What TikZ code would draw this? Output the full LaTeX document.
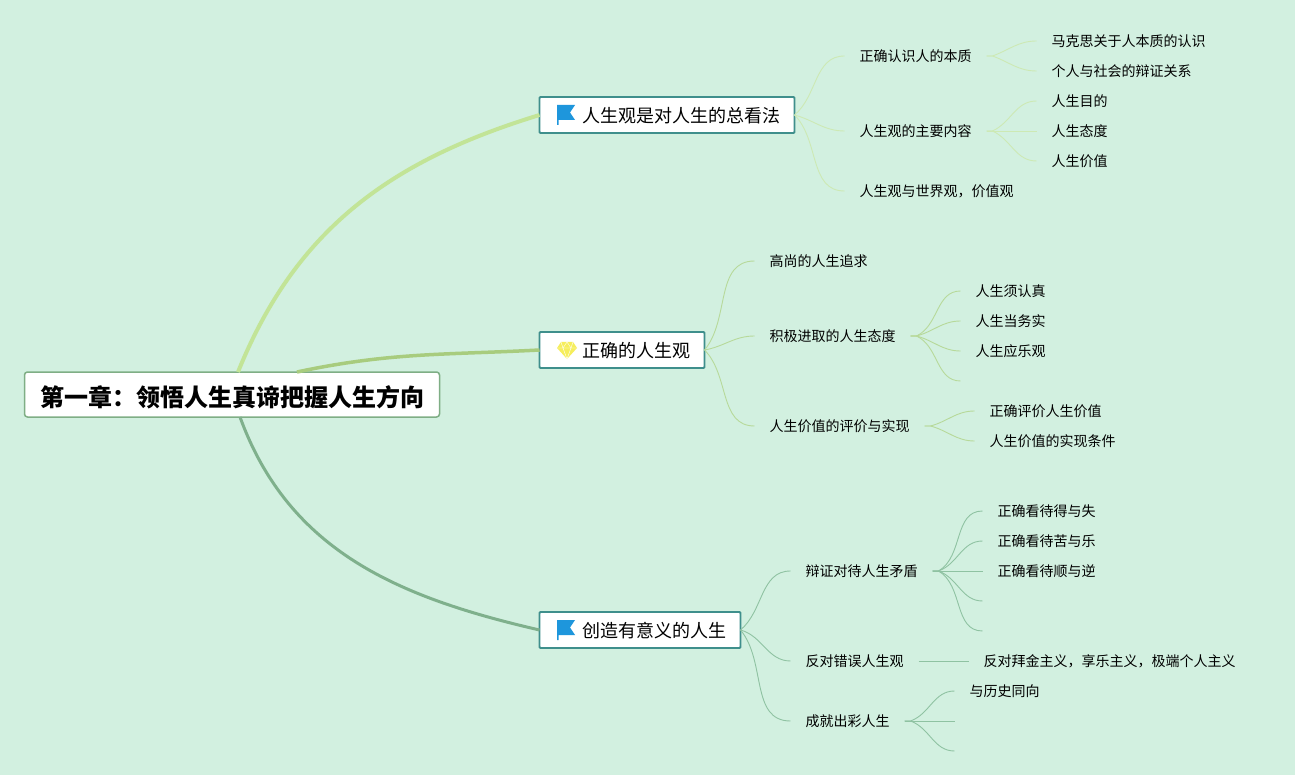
\documentclass[tikz,border=0pt]{standalone}
\usepackage{fontspec}
\setmainfont{Noto Sans CJK SC}
\usepackage{xcolor}
\usetikzlibrary{positioning}
\definecolor{paper}{HTML}{D2F0E0}
\definecolor{teal}{HTML}{3F8F8C}
\definecolor{rootline}{HTML}{7FAE85}
\definecolor{lime}{HTML}{C2E497}
\definecolor{olive}{HTML}{A8CC7E}
\definecolor{sage}{HTML}{7FB08C}
\definecolor{limetwig}{HTML}{CDE9B4}
\definecolor{olivetwig}{HTML}{B7D99A}
\definecolor{sagetwig}{HTML}{8FC2A2}
\definecolor{flagblue}{HTML}{1E96DC}
\definecolor{gemyellow}{HTML}{F6EE5C}

\begin{document}
\begin{tikzpicture}[
  x=1pt, y=1pt, node distance=50pt, outer sep=0pt,
  rootbox/.style={rectangle, rounded corners=3pt, draw=rootline, line width=1.5pt, fill=white, minimum height=45pt, inner xsep=15.5pt, inner ysep=0pt, text height=24pt, text depth=0.8pt, font=\fontsize{24}{28}\selectfont\bfseries},
  topic/.style={rectangle, rounded corners=1pt, draw=teal, line width=1.8pt, fill=white, minimum height=36pt, inner xsep=14pt, inner ysep=0pt, text height=17pt, text depth=1.3pt, font=\fontsize{18}{22}\selectfont},
  item/.style={rectangle, inner xsep=15pt, inner ysep=0pt, text height=12.6pt, text depth=1pt, font=\fontsize{14}{18}\selectfont},
  twig/.style={line width=0.9pt},
  flag/.pic={
    \fill[flagblue] (0,10) -- (18,10) -- (13,2.5) -- (18,-5) -- (1.5,-5) -- (1.5,-10) -- (0,-10) -- cycle;
  },
  gem/.pic={
    \fill[gemyellow] (4,8) -- (16,8) -- (20,2) -- (10,-9) -- (0,2) -- cycle;
    \draw[white, line width=0.4pt] (0,2) -- (20,2) (6,2) -- (10,-9) -- (14,2) (4,8) -- (6,2) -- (10,8) -- (14,2) -- (16,8);
  }
]
  \fill[paper] (0,0) rectangle (1295,-775);
  \useasboundingbox (0,0) rectangle (1295,-775);

  % centre and the three main topics
  \node[rootbox] (root) at (232,-394.5) {第一章：领悟人生真谛把握人生方向};
  \node[topic, right=100pt of root, yshift=279.5pt] (view) {\hspace*{29pt}人生观是对人生的总看法};
  \node[topic, right=100pt of root, yshift=44.5pt] (right) {\hspace*{29pt}正确的人生观};
  \node[topic, right=100pt of root, yshift=-235.5pt] (create) {\hspace*{29pt}创造有意义的人生};
  \pic at ([xshift=17.5pt]view.west) {flag};
  \pic at ([xshift=17.5pt]right.west) {gem};
  \pic at ([xshift=17.5pt]create.west) {flag};

  % first topic
  \node[item, right=of view, yshift=59pt] (nature) {正确认识人的本质};
  \node[item, right=of view, yshift=-16pt] (content) {人生观的主要内容};
  \node[item, right=of view, yshift=-76pt] (world) {人生观与世界观，价值观};
  \node[item, right=of nature, yshift=15pt] (marx) {马克思关于人本质的认识};
  \node[item, right=of nature, yshift=-15pt] (society) {个人与社会的辩证关系};
  \node[item, right=of content, yshift=30pt] (aim) {人生目的};
  \node[item, right=of content] (manner) {人生态度};
  \node[item, right=of content, yshift=-30pt] (worth) {人生价值};

  % second topic
  \node[item, right=of right, yshift=89pt] (noble) {高尚的人生追求};
  \node[item, right=of right, yshift=14pt] (active) {积极进取的人生态度};
  \node[item, right=of right, yshift=-76pt] (judge) {人生价值的评价与实现};
  \node[item, right=of active, yshift=45pt] (serious) {人生须认真};
  \node[item, right=of active, yshift=15pt] (real) {人生当务实};
  \node[item, right=of active, yshift=-15pt] (glad) {人生应乐观};
  \coordinate[right=of active, yshift=-45pt] (activeend);
  \node[item, right=of judge, yshift=15pt] (rate) {正确评价人生价值};
  \node[item, right=of judge, yshift=-15pt] (terms) {人生价值的实现条件};

  % third topic
  \node[item, right=of create, yshift=59pt] (conflict) {辩证对待人生矛盾};
  \node[item, right=of create, yshift=-31pt] (oppose) {反对错误人生观};
  \node[item, right=of create, yshift=-91pt] (achieve) {成就出彩人生};
  \node[item, right=of conflict, yshift=60pt] (gain) {正确看待得与失};
  \node[item, right=of conflict, yshift=30pt] (bitter) {正确看待苦与乐};
  \node[item, right=of conflict] (smooth) {正确看待顺与逆};
  \coordinate[right=of conflict, yshift=-30pt] (conflictfour);
  \coordinate[right=of conflict, yshift=-60pt] (conflictfive);
  \node[item, right=of oppose] (money) {反对拜金主义，享乐主义，极端个人主义};
  \node[item, right=of achieve, yshift=30pt] (history) {与历史同向};
  \coordinate[right=of achieve] (achievetwo);
  \coordinate[right=of achieve, yshift=-30pt] (achievethree);

  % main branches
  \draw[lime, line width=4pt] ([xshift=6pt]root.north) to[out=68, in=197] (view.west);
  \draw[olive, line width=3.5pt] ([xshift=65pt]root.north) to[out=12, in=183] (right.west);
  \draw[sage, line width=3pt] ([xshift=8pt]root.south) to[out=-70, in=167] (create.west);

  % twigs
  \draw[twig, limetwig] (view.east) to[out=40, in=180] (nature.west);
  \draw[twig, limetwig] (view.east) to[out=-15, in=180] (content.west);
  \draw[twig, limetwig] (view.east) to[out=-45, in=180] (world.west);
  \draw[twig, limetwig] (nature.east) -- ++(6,0) to[out=20, in=180] (marx.west);
  \draw[twig, limetwig] (nature.east) -- ++(6,0) to[out=-20, in=180] (society.west);
  \draw[twig, limetwig] (content.east) -- ++(6,0) to[out=25, in=180] (aim.west);
  \draw[twig, limetwig] (content.east) -- (manner.west);
  \draw[twig, limetwig] (content.east) -- ++(6,0) to[out=-25, in=180] (worth.west);

  \draw[twig, olivetwig] (right.east) to[out=50, in=180] (noble.west);
  \draw[twig, olivetwig] (right.east) to[out=10, in=180] (active.west);
  \draw[twig, olivetwig] (right.east) to[out=-45, in=180] (judge.west);
  \draw[twig, olivetwig] (active.east) -- ++(6,0) to[out=25, in=180] (serious.west);
  \draw[twig, olivetwig] (active.east) -- ++(6,0) to[out=15, in=180] (real.west);
  \draw[twig, olivetwig] (active.east) -- ++(6,0) to[out=-15, in=180] (glad.west);
  \draw[twig, olivetwig] (active.east) -- ++(6,0) to[out=-25, in=180] (activeend);
  \draw[twig, olivetwig] (judge.east) -- ++(6,0) to[out=15, in=180] (rate.west);
  \draw[twig, olivetwig] (judge.east) -- ++(6,0) to[out=-15, in=180] (terms.west);

  \draw[twig, sagetwig] (create.east) to[out=40, in=180] (conflict.west);
  \draw[twig, sagetwig] (create.east) to[out=-15, in=180] (oppose.west);
  \draw[twig, sagetwig] (create.east) to[out=-50, in=180] (achieve.west);
  \draw[twig, sagetwig] (conflict.east) -- ++(6,0) to[out=30, in=180] (gain.west);
  \draw[twig, sagetwig] (conflict.east) -- ++(6,0) to[out=20, in=180] (bitter.west);
  \draw[twig, sagetwig] (conflict.east) -- (smooth.west);
  \draw[twig, sagetwig] (conflict.east) -- ++(6,0) to[out=-20, in=180] (conflictfour);
  \draw[twig, sagetwig] (conflict.east) -- ++(6,0) to[out=-30, in=180] (conflictfive);
  \draw[twig, sagetwig] (oppose.east) -- (money.west);
  \draw[twig, sagetwig] (achieve.east) -- ++(6,0) to[out=20, in=180] (history.west);
  \draw[twig, sagetwig] (achieve.east) -- (achievetwo);
  \draw[twig, sagetwig] (achieve.east) -- ++(6,0) to[out=-20, in=180] (achievethree);
\end{tikzpicture}
\end{document}
